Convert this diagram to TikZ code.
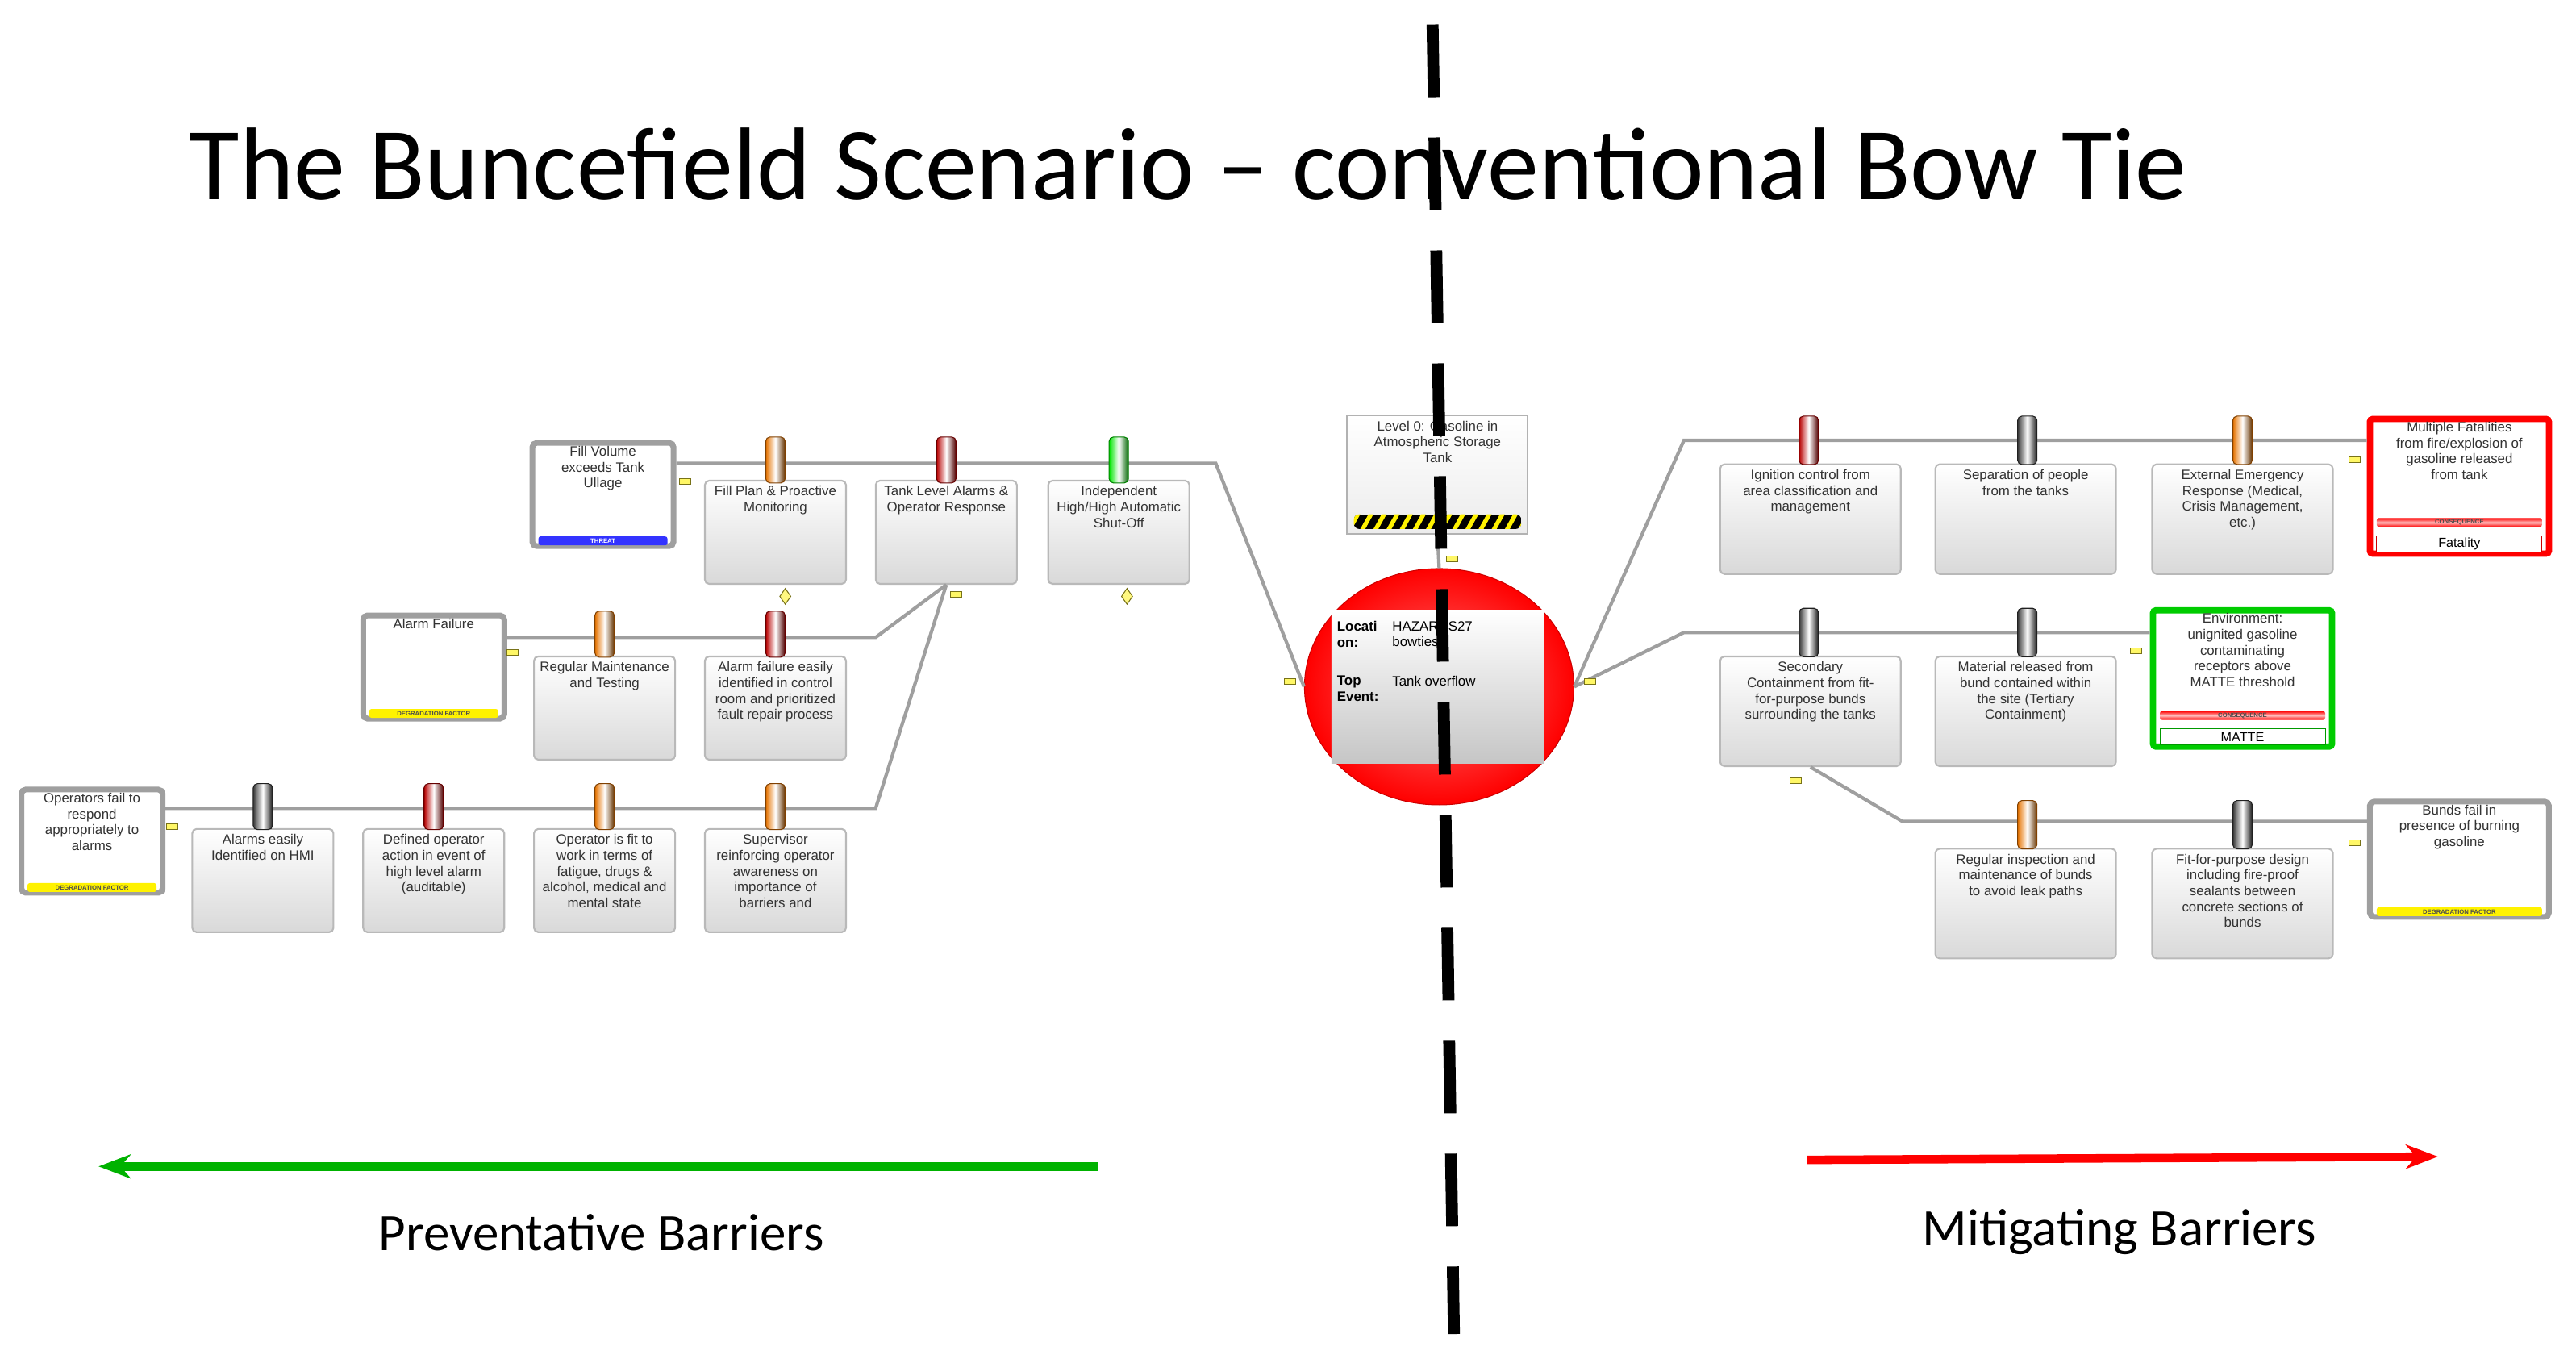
\documentclass[tikz,border=0pt]{standalone}
\usepackage{fontspec}
\usetikzlibrary{shapes.geometric,arrows.meta}
\setmainfont{Liberation Sans}
\newfontfamily\carl{Carlito}
\begin{document}
\begin{tikzpicture}[x=0.02037cm,y=-0.02037cm,
  lbox/.style={draw=gray!55,line width=0.6pt,rounded corners=1.5pt,top color=white,bottom color=gray!30,minimum width=1.75cm,minimum height=1.28cm,inner sep=0},
  rbox/.style={lbox,minimum width=2.24cm,minimum height=1.36cm},
  btxt/.style={anchor=north,align=center,font=\fontsize{4.8}{5.6}\selectfont,text=black!80,inner sep=1pt,yshift=-1pt},
  tbox/.style={draw=gray!75,line width=2pt,rounded corners=1.5pt,fill=white,minimum width=1.75cm,minimum height=1.28cm,inner sep=0},
  bar/.style={minimum height=0.11cm,inner sep=0,font=\fontsize{2.2}{2.2}\selectfont\bfseries,text=black!70,rounded corners=0.8pt},
  pin/.style={minimum width=0.24cm,minimum height=0.57cm,inner sep=0,rounded corners=1.5pt,draw=#1!50!black,line width=0.3pt,left color=#1!90!black,right color=#1!40!black,middle color=white},
  conn/.style={draw=gray!75,line width=1.2pt},
  mk/.style={draw=olive!80!black,fill=yellow!60,minimum width=0.14cm,minimum height=0.07cm,inner sep=0,line width=0.3pt},
  dm/.style={draw=olive!80!black,fill=yellow!50,diamond,minimum width=0.14cm,minimum height=0.2cm,inner sep=0,line width=0.3pt,shape aspect=0.7},
  cbar/.style={bar,top color=red,bottom color=red,middle color=red!25,minimum width=2.05cm},
]
\useasboundingbox (0,0) rectangle (1568,829.2);
% ---- title
\node[font=\carl\fontsize{36.4}{40}\selectfont,anchor=west,inner sep=0] (title) at (115,100) {The Buncefield Scenario – conventional Bow Tie};
% ---- left nodes
\node[tbox] (T1) at (367,301) {};
\node[btxt] (T1t) at (T1.north) {Fill Volume\\exceeds Tank\\Ullage};
\node[bar,fill=blue!80,text=white,minimum width=1.6cm] (T1b) at ([yshift=0.1cm]T1.south) {THREAT};
\node[tbox] (T2) at (264,406) {};
\node[btxt] (T2t) at (T2.north) {Alarm Failure};
\node[bar,fill=yellow,minimum width=1.6cm] (T2b) at ([yshift=0.1cm]T2.south) {DEGRADATION FACTOR};
\node[tbox] (T3) at (56,512) {};
\node[btxt] (T3t) at (T3.north) {Operators fail to\\respond\\appropriately to\\alarms};
\node[bar,fill=yellow,minimum width=1.6cm] (T3b) at ([yshift=0.1cm]T3.south) {DEGRADATION FACTOR};

\node[lbox] (LB1) at (472,324) {}; \node[btxt] at (LB1.north) {Fill Plan \& Proactive\\Monitoring};
\node[lbox] (LB2) at (576,324) {}; \node[btxt] at (LB2.north) {Tank Level Alarms \&\\Operator Response};
\node[lbox] (LB3) at (681,324) {}; \node[btxt] at (LB3.north) {Independent\\High/High Automatic\\Shut-Off};
\node[lbox] (LB4) at (368,431) {}; \node[btxt] at (LB4.north) {Regular Maintenance\\and Testing};
\node[lbox] (LB5) at (472,431) {}; \node[btxt] at (LB5.north) {Alarm failure easily\\identified in control\\room and prioritized\\fault repair process};
\node[lbox] (LB6) at (160,536) {}; \node[btxt] at (LB6.north) {Alarms easily\\Identified on HMI};
\node[lbox] (LB7) at (264,536) {}; \node[btxt] at (LB7.north) {Defined operator\\action in event of\\high level alarm\\(auditable)};
\node[lbox] (LB8) at (368,536) {}; \node[btxt] at (LB8.north) {Operator is fit to\\work in terms of\\fatigue, drugs \&\\alcohol, medical and\\mental state};
\node[lbox] (LB9) at (472,536) {}; \node[btxt] at (LB9.north) {Supervisor\\reinforcing operator\\awareness on\\importance of\\barriers and};

% ---- centre
\node[draw=gray!60,line width=0.6pt,top color=white,bottom color=gray!15,minimum width=2.24cm,minimum height=1.47cm,inner sep=0] (H) at (875,289) {};
\node[btxt] (Ht) at (H.north) {Level 0: Gasoline in\\Atmospheric Storage\\Tank};
\begin{scope}
\clip[rounded corners=2pt] (824,313) rectangle (926,322);
\fill[black] (824,313) rectangle (926,322);
\foreach \i in {0,...,14} {\fill[yellow] (820+\i*8,322) -- ++(3,0) -- ++(5,-9) -- ++(-3,0) -- cycle;}
\end{scope}
\node[ellipse,minimum width=3.34cm,minimum height=2.93cm,inner color=red!55,outer color=red,draw=red!80!black,line width=0.3pt] (E) at (876,418) {};
\node[minimum width=2.63cm,minimum height=1.9cm,top color=white,bottom color=gray!45,inner sep=0] (EB) at (875,418) {};
\node[anchor=north west,align=left,font=\fontsize{4.8}{5.6}\selectfont\bfseries,inner sep=1pt] (EL1) at ([xshift=1pt,yshift=-3pt]EB.north west) {Locati\\on:};
\node[anchor=north west,align=left,font=\fontsize{4.8}{5.6}\selectfont,inner sep=1pt] (EV1) at ([xshift=0.72cm,yshift=-3pt]EB.north west) {HAZARDS27\\bowties};
\node[anchor=north west,align=left,font=\fontsize{4.8}{5.6}\selectfont\bfseries,inner sep=1pt] (EL2) at ([xshift=1pt,yshift=-0.78cm]EB.north west) {Top\\Event:};
\node[anchor=north west,align=left,font=\fontsize{4.8}{5.6}\selectfont,inner sep=1pt] (EV2) at ([xshift=0.72cm,yshift=-0.78cm]EB.north west) {Tank overflow};

% ---- right nodes
\node[rbox] (RB1) at (1102,316) {}; \node[btxt] at (RB1.north) {Ignition control from\\area classification and\\management};
\node[rbox] (RB2) at (1233,316) {}; \node[btxt] at (RB2.north) {Separation of people\\from the tanks};
\node[rbox] (RB3) at (1365,316) {}; \node[btxt] at (RB3.north) {External Emergency\\Response (Medical,\\Crisis Management,\\etc.)};
\node[rbox] (RB4) at (1102,433) {}; \node[btxt] at (RB4.north) {Secondary\\Containment from fit-\\for-purpose bunds\\surrounding the tanks};
\node[rbox] (RB5) at (1233,433) {}; \node[btxt] at (RB5.north) {Material released from\\bund contained within\\the site (Tertiary\\Containment)};
\node[rbox] (RB6) at (1233,550) {}; \node[btxt] at (RB6.north) {Regular inspection and\\maintenance of bunds\\to avoid leak paths};
\node[rbox] (RB7) at (1365,550) {}; \node[btxt] at (RB7.north) {Fit-for-purpose design\\including fire-proof\\sealants between\\concrete sections of\\bunds};

\node[draw=red,line width=2.2pt,fill=white,rounded corners=1pt,minimum width=2.22cm,minimum height=1.67cm,inner sep=0] (C1) at (1497,296) {};
\node[btxt] at (C1.north) {Multiple Fatalities\\from fire/explosion of\\gasoline released\\from tank};
\node[draw=red!80!black,line width=0.3pt,fill=white,minimum width=2.05cm,minimum height=0.2cm,inner sep=0,font=\fontsize{4.6}{5}\selectfont] (C1f) at ([yshift=0.16cm]C1.south) {Fatality};
\node[cbar] (C1b) at ([yshift=0.16cm]C1f.north) {CONSEQUENCE};

\node[draw=green!80!black,line width=2.2pt,fill=white,rounded corners=1pt,minimum width=2.22cm,minimum height=1.69cm,inner sep=0] (C2) at (1365,413) {};
\node[btxt] at (C2.north) {Environment:\\unignited gasoline\\contaminating\\receptors above\\MATTE threshold};
\node[draw=green!60!black,line width=0.3pt,fill=white,minimum width=2.05cm,minimum height=0.2cm,inner sep=0,font=\fontsize{4.6}{5}\selectfont] (C2f) at ([yshift=0.16cm]C2.south) {MATTE};
\node[cbar] (C2b) at ([yshift=0.16cm]C2f.north) {CONSEQUENCE};

\node[tbox,minimum width=2.22cm,minimum height=1.43cm] (D3) at (1497,523) {};
\node[btxt] at (D3.north) {Bunds fail in\\presence of burning\\gasoline};
\node[bar,fill=yellow,minimum width=2.05cm] (D3b) at ([yshift=0.1cm]D3.south) {DEGRADATION FACTOR};

% ---- connectors
\coordinate (k1) at (740,282);
\coordinate (k2) at (533,388);
\coordinate (k3) at (533,492);
\coordinate (k4) at (1025,268);
\coordinate (k5) at (1025,385);
\coordinate (k6) at (1158,500);
\draw[conn] (T1.east |- k1) -- (k1) -- (E.west);
\draw[conn] (T2.east |- k2) -- (k2) -- (LB2.south);
\draw[conn] (T3.east |- k3) -- (k3) -- (LB2.south);
\draw[conn] (H.south) -- (E.north);
\draw[conn] (E.east) -- (k4) -- (C1.west |- k4);
\draw[conn] (E.east) -- (k5) -- (C2.west |- k5);
\draw[conn] (RB4.south) -- (k6) -- (D3.west |- k6);

% ---- pins
\node[pin=orange] (P1) at (472,280) {};
\node[pin=red!80!black] (P2) at (576,280) {};
\node[pin=green] (P3) at (681,280) {};
\node[pin=orange] (P4) at (368,386) {};
\node[pin=red!80!black] (P5) at (472,386) {};
\node[pin=gray!50!black] (P6) at (160,491) {};
\node[pin=red!80!black] (P7) at (264,491) {};
\node[pin=orange] (P8) at (368,491) {};
\node[pin=orange] (P9) at (472,491) {};
\node[pin=red!80!black,minimum height=0.6cm] (P10) at (1101,268) {};
\node[pin=gray!50!black,minimum height=0.6cm] (P11) at (1234,268) {};
\node[pin=orange,minimum height=0.6cm] (P12) at (1365,268) {};
\node[pin=gray!50!black,minimum height=0.6cm] (P13) at (1101,385) {};
\node[pin=gray!50!black,minimum height=0.6cm] (P14) at (1234,385) {};
\node[pin=orange,minimum height=0.6cm] (P15) at (1234,502) {};
\node[pin=gray!50!black,minimum height=0.6cm] (P16) at (1365,502) {};

% ---- markers
\node[mk] (m1) at (417,293) {};
\node[mk] (m2) at (582,362) {};
\node[mk] (m3) at (312,397) {};
\node[mk] (m4) at (105,503) {};
\node[mk] (m5) at (785,415) {};
\node[mk] (m6) at (968,415) {};
\node[mk] (m7) at (884,340) {};
\node[mk] (m8) at (1433,280) {};
\node[mk] (m9) at (1300,396) {};
\node[mk] (m10) at (1093,475) {};
\node[mk] (m11) at (1433,513) {};
\node[dm] (d1) at (478,363) {};
\node[dm] (d2) at (686,363) {};

% ---- dashed divider
\coordinate (v1) at (872,15);
\coordinate (v2) at (885,812);
\draw[line width=4.2pt,dash pattern=on 0.9cm off 0.5cm] (v1) -- (v2);

% ---- arrows and labels
\coordinate (a1) at (668,710); \coordinate (a2) at (60,710);
\draw[green!70!black,line width=3pt,-{Stealth[length=0.4cm,width=0.3cm]}] (a1) -- (a2);
\coordinate (a3) at (1100,706); \coordinate (a4) at (1484,704);
\draw[red,line width=3pt,-{Stealth[length=0.4cm,width=0.3cm]}] (a3) -- (a4);
\node[font=\carl\fontsize{18.5}{20}\selectfont] (lp) at (366,750) {Preventative Barriers};
\node[font=\carl\fontsize{18.5}{20}\selectfont] (lm) at (1290,750) {Mitigating Barriers};
\end{tikzpicture}
\end{document}
